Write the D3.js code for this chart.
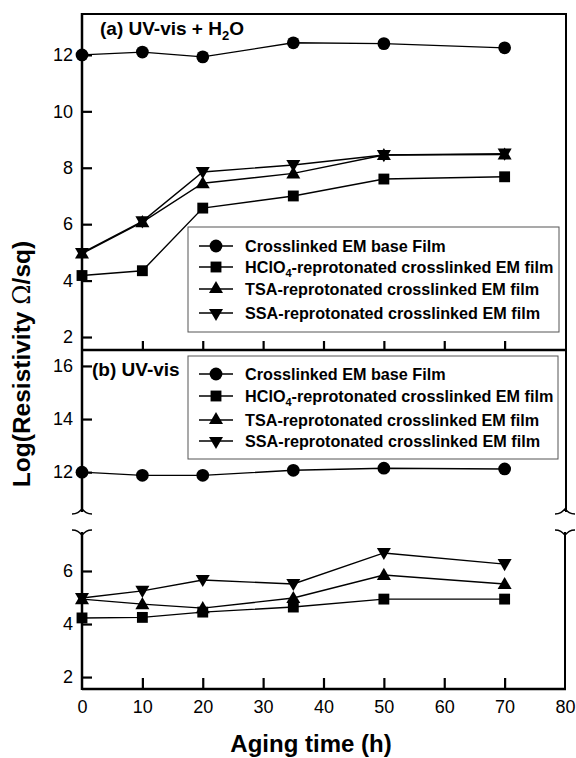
<!DOCTYPE html>
<html><head><meta charset="utf-8">
<script src="https://cdn.jsdelivr.net/npm/d3@7"></script>
<style>body{margin:0;background:#fff}svg{display:block}text{font-family:"Liberation Sans",Arial,sans-serif}</style>
</head><body>
<svg id="c" width="576" height="758"></svg>
<script>
const hours = [0, 10, 20, 35, 50, 70];
const seriesLabels = ["Crosslinked EM base Film", "HClO4-reprotonated crosslinked EM film", "TSA-reprotonated crosslinked EM film", "SSA-reprotonated crosslinked EM film"];
// panel (a) UV-vis + H2O
const aEM    = [12.0, 12.1, 11.93, 12.43, 12.4, 12.25];
const aHClO4 = [4.18, 4.35, 6.57, 7.0, 7.6, 7.68];
const aTSA   = [4.96, 6.07, 7.45, 7.8, 8.45, 8.47];
const aSSA   = [4.98, 6.1, 7.85, 8.1, 8.45, 8.5];
// panel (b) UV-vis
const bEM    = [12.0, 11.88, 11.88, 12.07, 12.15, 12.12];
const bHClO4 = [4.23, 4.25, 4.45, 4.64, 4.94, 4.94];
const bTSA   = [4.94, 4.75, 4.6, 4.98, 5.85, 5.51];
const bSSA   = [4.98, 5.25, 5.66, 5.51, 6.68, 6.26];
const xTicks = [0, 10, 20, 30, 40, 50, 60, 70, 80];
const aYTicks = [2, 4, 6, 8, 10, 12];
const bYTicks = [2, 4, 6, 12, 14, 16];

const svg = d3.select("#c");
const L = 82, R = 565;
const x = d3.scaleLinear().domain([0, 80]).range([L, R]);
const ya = d3.scaleLinear().domain([1.54, 13.45]).range([350, 14]);
// broken axis for panel b
const yb = d3.scaleLinear().domain([1.55, 7.47, 10.5, 16.6]).range([689, 532, 512, 350]);

const symbols = [
  d3.symbol().type(d3.symbolCircle).size(128),
  d3.symbol().type(d3.symbolSquare).size(118),
  d3.symbol().type(d3.symbolTriangle).size(85),
  d3.symbol().type(d3.symbolTriangle).size(85)
];
const rot = [0, 0, 0, 180];

function drawSeries(scale, arrays) {
  arrays.forEach((vals, i) => {
    const pts = hours.map((h, j) => [x(h), scale(vals[j])]);
    svg.append("path").attr("d", d3.line()(pts)).attr("fill", "none").attr("stroke", "#000").attr("stroke-width", 1.4);
    pts.forEach(p => {
      svg.append("path").attr("d", symbols[i]()).attr("fill", "#000")
        .attr("transform", `translate(${p[0]},${p[1] + (i === 2 ? 1 : i === 3 ? -1 : 0)}) rotate(${rot[i]})`);
    });
  });
}

function legend(x0, y0, w, h, rows) {
  svg.append("rect").attr("x", x0).attr("y", y0).attr("width", w).attr("height", h)
    .attr("fill", "#fff").attr("stroke", "#555").attr("stroke-width", 1);
  rows.forEach((ry, i) => {
    svg.append("line").attr("x1", x0 + 11).attr("x2", x0 + 45).attr("y1", ry).attr("y2", ry).attr("stroke", "#000").attr("stroke-width", 1.4);
    svg.append("path").attr("d", symbols[i]()).attr("fill", "#000")
      .attr("transform", `translate(${x0 + 28},${ry}) rotate(${rot[i]})`);
    const t = svg.append("text").attr("x", x0 + 57).attr("y", ry + 6).attr("font-size", 16.2).attr("font-weight", "bold");
    const lab = seriesLabels[i];
    if (lab.startsWith("HClO4")) {
      t.append("tspan").text("HClO");
      t.append("tspan").attr("font-size", 11).attr("dy", 4).text("4");
      t.append("tspan").attr("dy", -4).text(lab.slice(5));
    } else t.text(lab);
  });
}

// panel a series and legend
drawSeries(ya, [aEM, aHClO4, aTSA, aSSA]);
legend(188, 227, 371, 105, [246, 267, 289, 313]);
// panel b
legend(188, 356, 370, 103, [374, 396, 420, 441]);
drawSeries(yb, [bEM, bHClO4, bTSA, bSSA]);

// frames
const blk = "#000";
svg.append("line").attr("x1", L).attr("x2", R + 2).attr("y1", 14).attr("y2", 14).attr("stroke", blk).attr("stroke-width", 2);
svg.append("line").attr("x1", R + 1).attr("x2", R + 1).attr("y1", 14).attr("y2", 512).attr("stroke", blk).attr("stroke-width", 2);
svg.append("line").attr("x1", R).attr("x2", R).attr("y1", 532).attr("y2", 689).attr("stroke", blk).attr("stroke-width", 2);
svg.append("line").attr("x1", L).attr("x2", R + 1).attr("y1", 350).attr("y2", 350).attr("stroke", blk).attr("stroke-width", 2.5);
svg.append("line").attr("x1", L).attr("x2", R + 1).attr("y1", 689).attr("y2", 689).attr("stroke", blk).attr("stroke-width", 2.5);
svg.append("line").attr("x1", L).attr("x2", L).attr("y1", 13).attr("y2", 512).attr("stroke", blk).attr("stroke-width", 2.5);
svg.append("line").attr("x1", L).attr("x2", L).attr("y1", 532).attr("y2", 690).attr("stroke", blk).attr("stroke-width", 2.5);

// break marks
function brk(cx, cy) {
  svg.append("path").attr("d", `M${cx - 10},${cy + 2} C${cx - 5},${cy + 2} ${cx - 3},${cy} ${cx},${cy - 3} C${cx + 3},${cy} ${cx + 5},${cy + 2} ${cx + 10},${cy + 2}`)
    .attr("fill", "none").attr("stroke", blk).attr("stroke-width", 1.6);
}
function brk2(cx, cy) {
  svg.append("path").attr("d", `M${cx - 10},${cy - 2} C${cx - 5},${cy - 2} ${cx - 3},${cy} ${cx},${cy + 3} C${cx + 3},${cy} ${cx + 5},${cy - 2} ${cx + 10},${cy - 2}`)
    .attr("fill", "none").attr("stroke", blk).attr("stroke-width", 1.6);
}
brk(L, 512); brk2(L, 532); brk(R, 512); brk2(R, 532);

// axes
const axA = d3.axisLeft(ya).tickValues(aYTicks).tickSize(-10).tickPadding(9).tickFormat(d3.format("d"));
const gA = svg.append("g").attr("transform", `translate(${L},0)`).call(axA);
const axB = d3.axisLeft(yb).tickValues(bYTicks).tickSize(-10).tickPadding(9).tickFormat(d3.format("d"));
const gB = svg.append("g").attr("transform", `translate(${L},0)`).call(axB);
const axXa = d3.axisBottom(x).tickValues(xTicks.slice(1, 8)).tickSize(-9).tickFormat("");
const gXa = svg.append("g").attr("transform", `translate(0,350)`).call(axXa);
const axXb = d3.axisBottom(x).tickValues(xTicks).tickSize(-11).tickPadding(11).tickFormat(d3.format("d"));
const gXb = svg.append("g").attr("transform", `translate(0,689)`).call(axXb);
[gA, gB, gXa, gXb].forEach(g => {
  g.select(".domain").remove();
  g.selectAll(".tick line").attr("stroke", blk).attr("stroke-width", 2.2);
  g.selectAll(".tick text").attr("font-size", 18).attr("fill", blk).attr("font-family", '"Liberation Sans",Arial,sans-serif');
});
gXb.selectAll(".tick").filter(d => d === 0 || d === 80).select("line").remove();

// panel labels
const ta = svg.append("text").attr("x", 100).attr("y", 35).attr("font-size", 19).attr("font-weight", "bold");
ta.append("tspan").text("(a) UV-vis + H");
ta.append("tspan").attr("font-size", 13).attr("dy", 5).text("2");
ta.append("tspan").attr("dy", -5).text("O");
svg.append("text").attr("x", 92).attr("y", 376).attr("font-size", 19).attr("font-weight", "bold").text("(b) UV-vis");

// axis titles
svg.append("text").attr("x", 311).attr("y", 752).attr("text-anchor", "middle").attr("font-size", 24).attr("font-weight", "bold").text("Aging time (h)");
const yt = svg.append("text").attr("transform", "translate(30,364) rotate(-90)").attr("text-anchor", "middle").attr("font-size", 24.5).attr("font-weight", "bold");
yt.append("tspan").text("Log(Resistivity ");
yt.append("tspan").attr("font-weight", "normal").attr("font-family", '"DejaVu Serif",serif').text("Ω");
yt.append("tspan").text("/sq)");
</script>
</body></html>
